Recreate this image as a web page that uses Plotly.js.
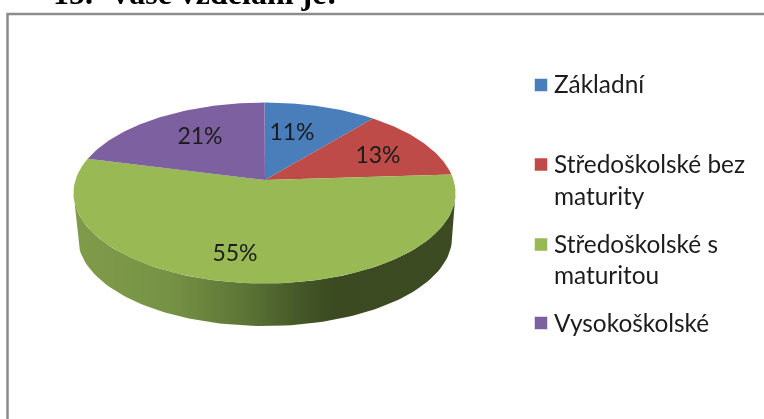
<!DOCTYPE html>
<html>
<head>
<meta charset="utf-8">
<script src="https://cdn.plot.ly/plotly-3.0.1.min.js"></script>
<style>html,body{margin:0;padding:0;background:#fff;overflow:hidden}#c{width:764px;height:419px;filter:blur(0.5px)}</style>
</head>
<body>
<div id="c"></div>
<script>
const titleText = "15.\u00a0\u00a0Vaše vzdělání je:";
const categories = ["Základní", "Středoškolské bez<br>maturity", "Středoškolské s<br>maturitou", "Vysokoškolské"];
const values = [11, 13, 55, 21];
const colors = ["#4a7ebb", "#be4b48", "#98b954", "#7d60a0"];

const W = 764, H = 419;
const topFace = {cx: 264.5, cy: 193, rx: 191, ry: 90.5};
const bottomFace = {cx: 265, cy: 238, rx: 187, ry: 88};
const apex = [265, 180];
const persp = 0.865;
const labelPos = [[292, 134], [378, 157], [235, 255], [200, 138]];
const legendSwatchY = [85, 164.5, 244.5, 323];
const legendY = [[83], [163, 195], [243, 274], [322]];

function warp(a) { // perspective: true pie angle -> ellipse parameter
  return 2 * Math.atan(persp * Math.tan(a / 2));
}
function pt(e, phi) { return [e.cx + e.rx * Math.sin(phi), e.cy - e.ry * Math.cos(phi)]; }

const total = values.reduce((a, b) => a + b, 0);
const traces = [];

// side wall
const sx = [], sy = [];
for (let d = 90; d <= 270; d += 2) { const p = pt(topFace, d * Math.PI / 180); sx.push(p[0]); sy.push(p[1]); }
for (let d = 270; d >= 90; d -= 2) { const p = pt(bottomFace, d * Math.PI / 180); sx.push(p[0]); sy.push(p[1]); }
traces.push({
  x: sx, y: sy, mode: "lines", fill: "toself", line: {width: 0}, hoverinfo: "skip",
  fillgradient: {type: "horizontal", start: 75, stop: 455, colorscale: [
    [0, "#7f9b4a"], [0.25, "#769244"], [0.45, "#5c7436"], [0.58, "#465a29"], [0.68, "#3b4a21"], [1, "#3d4b23"]
  ]}
});

// top-face slices
let cum = 0;
values.forEach((v, i) => {
  const a0 = cum / total * 2 * Math.PI, a1 = (cum + v) / total * 2 * Math.PI;
  cum += v;
  const xs = [apex[0]], ys = [apex[1]];
  for (let k = 0; k <= 80; k++) {
    const a = a0 + (a1 - a0) * k / 80;
    const p = pt(topFace, warp(a));
    xs.push(p[0]); ys.push(p[1]);
  }
  xs.push(apex[0]); ys.push(apex[1]);
  traces.push({x: xs, y: ys, mode: "lines", fill: "toself", fillcolor: colors[i], line: {width: 0}, name: categories[i], hoverinfo: "name"});
});

// percentage labels
traces.push({
  x: labelPos.map(p => p[0]), y: labelPos.map(p => p[1]), mode: "text",
  text: values.map(v => v + "%"), textposition: "middle center",
  textfont: {family: "Lato", size: 23, color: "#1c1c1c"}, hoverinfo: "skip", cliponaxis: false
});

// legend swatches
traces.push({
  x: categories.map(() => 541), y: legendSwatchY, mode: "markers",
  marker: {symbol: "square", size: 13, color: colors, line: {width: 1, color: "rgba(255,255,255,0.5)"}}, hoverinfo: "skip"
});

const annotations = [];
categories.forEach((c, i) => {
  c.split("<br>").forEach((line, j) => {
    annotations.push({x: 554, y: legendY[i][j], text: line, xanchor: "left", yanchor: "middle", showarrow: false,
      font: {family: "Lato", size: 24.4, color: "#1c1c1c"}, xshift: -2});
  });
});
annotations.push({x: 53, y: 3, text: "<b>" + titleText + "</b>", xanchor: "left", yanchor: "bottom", yshift: -10, showarrow: false,
  font: {family: "Liberation Serif", size: 32, color: "#000"}, xshift: -2});

Plotly.newPlot("c", traces, {
  width: W, height: H, margin: {l: 0, r: 0, t: 0, b: 0},
  paper_bgcolor: "#fff", plot_bgcolor: "#fff", showlegend: false,
  xaxis: {range: [0, W], visible: false, fixedrange: true},
  yaxis: {range: [H, 0], visible: false, fixedrange: true},
  annotations: annotations,
  shapes: [{type: "path", path: "M 7.5 430 L 7.5 14 L 775 14", line: {color: "#8c8c8c", width: 2.5}, layer: "below"}]
}, {displayModeBar: false});
</script>
</body>
</html>
